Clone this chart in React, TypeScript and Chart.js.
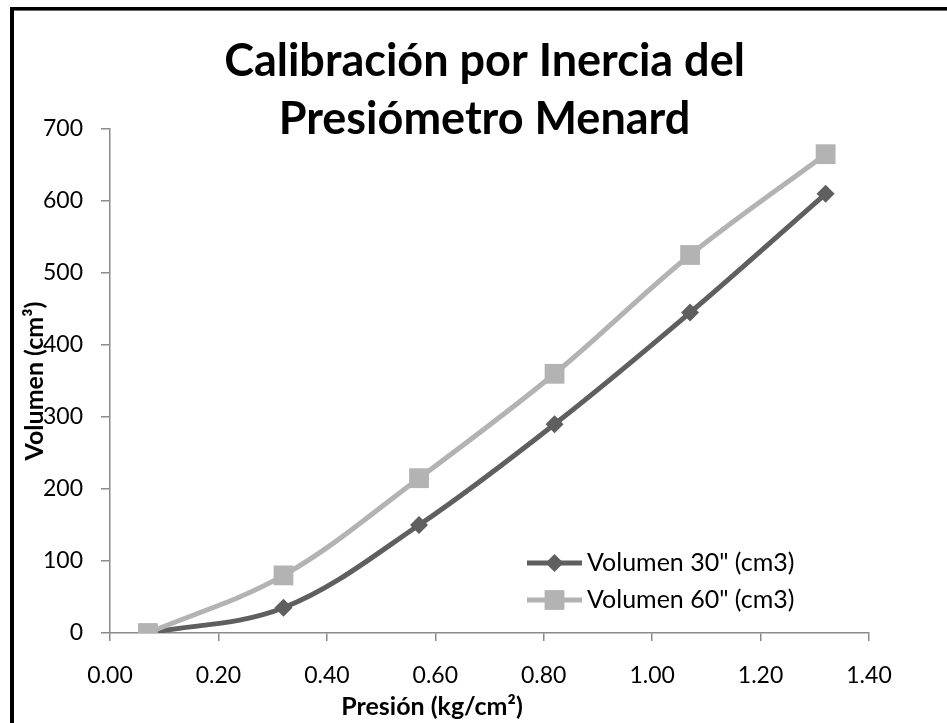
import React, { useEffect, useRef } from "react";
import { Chart, registerables } from "chart.js";

Chart.register(...registerables);

// Calibration readings: applied pressure (kg/cm²) vs. injected volume (cm³)
const pressures = [0.07, 0.32, 0.57, 0.82, 1.07, 1.32];
const volume30s = [0, 35, 150, 290, 445, 610];
const volume60s = [0, 80, 215, 360, 525, 665];

const seriesNames = ['Volumen 30" (cm3)', 'Volumen 60" (cm3)'];
const titleLines = ["Calibración por Inercia del", "Presiómetro Menard"];
const xAxisTitle = "Presión (kg/cm²)";
const yAxisTitle = "Volumen (cm³)";

const X_MIN = 0;
const X_MAX = 1.4;
const X_STEP = 0.2;
const Y_MIN = 0;
const Y_MAX = 700;
const Y_STEP = 100;

const DARK = "#5f5f5f";
const LIGHT = "#b3b3b3";
const AXIS = "#8a8a8a";
const FONT = "Lato, 'Open Sans', sans-serif";

const overlayPlugin = {
  id: "overlayText",
  afterDraw(chart: any) {
    const { ctx, chartArea } = chart;
    const cx = (chartArea.left + chartArea.right) / 2;
    ctx.save();
    ctx.fillStyle = "#000";

    // chart title (two lines)
    ctx.font = `bold 45px ${FONT}`;
    ctx.textAlign = "center";
    ctx.textBaseline = "alphabetic";
    ctx.fillText(titleLines[0], cx - 5, 76);
    ctx.fillText(titleLines[1], cx - 5, 134);

    // y axis title
    ctx.save();
    ctx.translate(35, (chartArea.top + chartArea.bottom) / 2);
    ctx.rotate(-Math.PI / 2);
    ctx.font = `bold 25px ${FONT}`;
    ctx.textBaseline = "middle";
    ctx.fillText(yAxisTitle, 0, 0);
    ctx.restore();

    // x axis title
    ctx.font = `bold 25px ${FONT}`;
    ctx.textBaseline = "middle";
    ctx.fillText(xAxisTitle, 432, 707);

    // legend: line + marker swatches
    const rows = [563, 600];
    chart.data.datasets.forEach((ds: any, i: number) => {
      const y = rows[i];
      const x0 = 527;
      const x1 = 582;
      ctx.strokeStyle = ds.borderColor;
      ctx.lineWidth = ds.borderWidth;
      ctx.beginPath();
      ctx.moveTo(x0, y);
      ctx.lineTo(x1, y);
      ctx.stroke();
      ctx.fillStyle = ds.pointBackgroundColor;
      const mx = (x0 + x1) / 2;
      ctx.beginPath();
      if (ds.pointStyle === "rectRot") {
        const r = ds.pointRadius;
        ctx.moveTo(mx - r, y);
        ctx.lineTo(mx, y - r);
        ctx.lineTo(mx + r, y);
        ctx.lineTo(mx, y + r);
        ctx.closePath();
      } else {
        const h = ds.pointRadius * Math.SQRT1_2;
        ctx.rect(mx - h, y - h, 2 * h, 2 * h);
      }
      ctx.fill();
      ctx.fillStyle = "#000";
      ctx.font = `25px ${FONT}`;
      ctx.textAlign = "left";
      ctx.textBaseline = "middle";
      ctx.fillText(seriesNames[i], 587, y);
    });
    ctx.restore();
  },
};

export default function App() {
  const canvasRef = useRef<HTMLCanvasElement | null>(null);

  useEffect(() => {
    const canvas = canvasRef.current;
    if (!canvas) return;
    const toPoints = (ys: number[]) => pressures.map((x, i) => ({ x, y: ys[i] }));

    const chart = new Chart(canvas, {
      type: "line",
      data: {
        datasets: [
          {
            label: seriesNames[0],
            data: toPoints(volume30s),
            borderColor: DARK,
            backgroundColor: DARK,
            pointBackgroundColor: DARK,
            pointBorderColor: DARK,
            pointBorderWidth: 0,
            borderWidth: 5,
            pointStyle: "rectRot",
            pointRadius: 9,
            tension: 0.35,
            order: 2,
          },
          {
            label: seriesNames[1],
            data: toPoints(volume60s),
            borderColor: LIGHT,
            backgroundColor: LIGHT,
            pointBackgroundColor: LIGHT,
            pointBorderColor: LIGHT,
            pointBorderWidth: 0,
            borderWidth: 5,
            pointStyle: "rect",
            pointRadius: 14,
            tension: 0.35,
            order: 1,
          },
        ],
      },
      options: {
        responsive: false,
        animation: false,
        events: [],
        layout: { padding: { top: 129, right: 78, left: 0, bottom: 0 } },
        plugins: {
          legend: { display: false },
          title: { display: false },
          tooltip: { enabled: false },
        },
        scales: {
          x: {
            type: "linear",
            min: X_MIN,
            max: X_MAX,
            grid: {
              display: true,
              drawOnChartArea: false,
              drawTicks: true,
              tickLength: 8,
              color: AXIS,
              lineWidth: 1.5,
            },
            border: { display: true, color: AXIS, width: 1.5 },
            ticks: {
              stepSize: X_STEP,
              color: "#000",
              padding: 21,
              font: { family: FONT, size: 23 },
              callback: (v: any) => Number(v).toFixed(2),
              maxRotation: 0,
            },
            afterFit: (s: any) => {
              s.height = 90;
            },
          },
          y: {
            type: "linear",
            min: Y_MIN,
            max: Y_MAX,
            grid: {
              display: true,
              drawOnChartArea: false,
              drawTicks: true,
              tickLength: 9,
              color: AXIS,
              lineWidth: 1.5,
            },
            border: { display: true, color: AXIS, width: 1.5 },
            ticks: {
              stepSize: Y_STEP,
              color: "#000",
              padding: 18,
              font: { family: FONT, size: 23 },
            },
            afterFit: (s: any) => {
              s.width = 110;
            },
          },
        },
      },
      plugins: [overlayPlugin],
    });

    return () => chart.destroy();
  }, []);

  return (
    <div style={{ position: "fixed", left: 0, top: 0, width: 947, height: 723, background: "#fff", overflow: "hidden" }}>
      <canvas ref={canvasRef} width={947} height={723} style={{ display: "block" }} />
      <div
        style={{
          position: "absolute",
          left: 10,
          top: 7,
          width: 960,
          height: 740,
          borderTop: "3px solid #000",
          borderLeft: "4px solid #000",
          boxShadow: "inset 0 1px 0 #666",
          pointerEvents: "none",
        }}
      />
    </div>
  );
}
